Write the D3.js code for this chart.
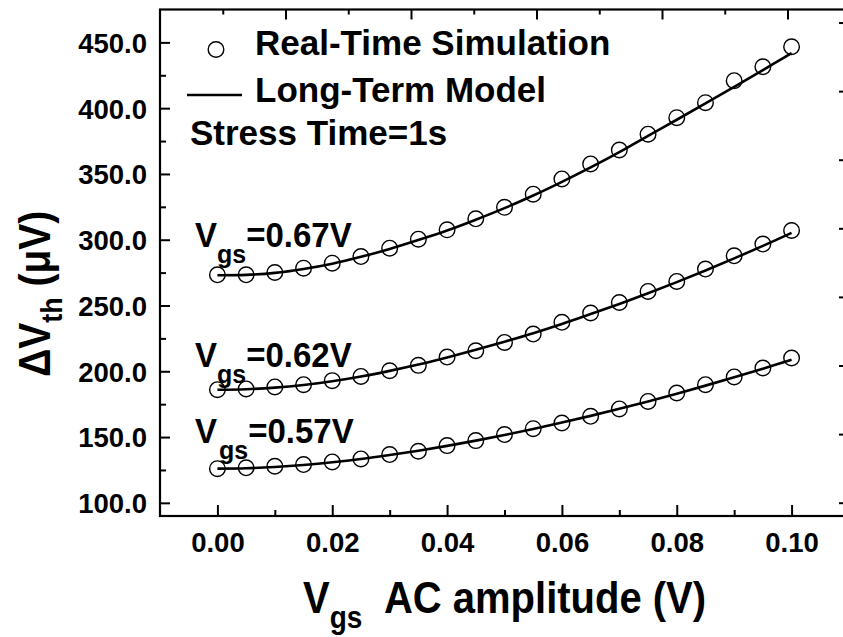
<!DOCTYPE html>
<html><head><meta charset="utf-8">
<script src="https://cdn.jsdelivr.net/npm/d3@7"></script>
<style>
body{margin:0;background:#fff}
text{font-family:"Liberation Sans",Arial,sans-serif;font-weight:bold;fill:#000}
</style>
</head><body><svg id="c" width="843" height="637"></svg>
<script>
// ---- data ----
const xValues = [0,0.005,0.01,0.015,0.02,0.025,0.03,0.035,0.04,0.045,0.05,0.055,0.06,0.065,0.07,0.075,0.08,0.085,0.09,0.095,0.1];
const sim067 = [273.3,273.3,275.1,278.4,282.2,287.2,293.6,300.4,307.5,315.9,324.6,334.6,346.2,357.6,368.2,380.2,392.8,404.2,420.9,431.5,446.7];
const sim062 = [186.0,186.6,188.1,189.8,192.9,196.1,200.4,204.5,210.8,215.6,221.9,228.3,237.2,244.3,252.3,260.7,268.3,277.7,287.8,296.7,307.0];
const sim057 = [126.0,126.6,127.8,129.1,131.1,133.4,136.7,139.2,143.5,147.3,151.9,156.4,160.7,165.8,171.4,177.1,183.5,189.8,195.7,202.5,210.1];
const model067 = [273.0,273.3,274.8,277.8,281.8,287.0,293.0,299.8,307.0,315.2,324.0,333.6,344.0,355.0,366.6,379.0,391.2,403.6,416.2,428.9,441.8];
const model062 = [186.0,186.4,187.6,189.6,192.4,196.0,200.3,205.1,210.5,216.3,222.5,229.0,236.0,243.5,251.2,259.3,267.8,276.6,285.8,295.3,305.2];
const model057 = [126.0,126.3,127.3,128.8,130.8,133.3,136.3,139.6,143.3,147.3,151.6,156.2,161.0,166.1,171.5,177.1,183.0,189.1,195.4,202.0,208.8];
const seriesNames = ["0.67V","0.62V","0.57V"];
const xTicks = [0,0.02,0.04,0.06,0.08,0.10];
const xMinorTicks = [0.01,0.03,0.05,0.07,0.09];
const yTicks = [100,150,200,250,300,350,400,450];
const yMinorTicks = [125,175,225,275,325,375,425];
const topTicks = [1,2,3,4,5];
const topMinorTicks = [0.5,1.5,2.5,3.5,4.5];
const rightTicks = [0,1,2,3,4,5,6,7];
const rightMinorTicks = [0.5,1.5,2.5,3.5,4.5,5.5,6.5];
const legendLabels = ["Real-Time Simulation","Long-Term Model","Stress Time=1s"];

// ---- layout ----
const L = 160, T = 9.5, R = 849, B = 516;
const svg = d3.select("#c");
const x = d3.scaleLinear([-0.01, 0.11], [L, R]);
const y = d3.scaleLinear([90, 475], [B, T]);
const xTop = d3.scaleLinear([0, 5.49], [L, R]);
const yRight = d3.scaleLinear([-0.194, 7.19], [B, T]);

function styleAxis(g){
  g.select(".domain").remove();
  g.selectAll(".tick line").attr("stroke","#000").attr("stroke-width",2);
  g.selectAll(".tick text").attr("fill","#000").style("font-size","27.5px").style("font-weight","bold")
   .style("font-family",'"Liberation Sans",Arial,sans-serif');
}

// bottom
svg.append("g").attr("transform",`translate(0,${B})`)
  .call(d3.axisBottom(x).tickValues(xTicks).tickSize(-11).tickPadding(16).tickFormat(d3.format(".2f")))
  .call(styleAxis);
svg.append("g").attr("transform",`translate(0,${B})`)
  .call(d3.axisBottom(x).tickValues(xMinorTicks).tickSize(-6).tickFormat(""))
  .call(styleAxis);
// left
svg.append("g").attr("transform",`translate(${L},0)`)
  .call(d3.axisLeft(y).tickValues(yTicks).tickSize(-10).tickPadding(13).tickFormat(d3.format(".1f")))
  .call(styleAxis)
  .call(g=>g.selectAll(".tick text").attr("dy","0.36em"));
svg.append("g").attr("transform",`translate(${L},0)`)
  .call(d3.axisLeft(y).tickValues(yMinorTicks).tickSize(-6).tickFormat(""))
  .call(styleAxis);
// top
svg.append("g").attr("transform",`translate(0,${T})`)
  .call(d3.axisTop(xTop).tickValues(topTicks).tickSize(-10).tickFormat(""))
  .call(styleAxis);
svg.append("g").attr("transform",`translate(0,${T})`)
  .call(d3.axisTop(xTop).tickValues(topMinorTicks).tickSize(-5).tickFormat(""))
  .call(styleAxis);
// right
svg.append("g").attr("transform",`translate(${R},0)`)
  .call(d3.axisRight(yRight).tickValues(rightTicks).tickSize(-10).tickFormat(""))
  .call(styleAxis);
svg.append("g").attr("transform",`translate(${R},0)`)
  .call(d3.axisRight(yRight).tickValues(rightMinorTicks).tickSize(-5).tickFormat(""))
  .call(styleAxis);
// frame
svg.append("rect").attr("x",L).attr("y",T).attr("width",R-L).attr("height",B-T)
  .attr("fill","none").attr("stroke","#000").attr("stroke-width",2.2);

// ---- series ----
const sims = [sim067, sim062, sim057];
const models = [model067, model062, model057];
const line = d3.line().x((d,i)=>x(xValues[i])).y(d=>y(d)).curve(d3.curveCatmullRom);
models.forEach(m=>{
  svg.append("path").attr("d",line(m)).attr("fill","none").attr("stroke","#000").attr("stroke-width",2.6);
});
sims.forEach(s=>{
  svg.append("g").selectAll("circle").data(s).join("circle")
    .attr("cx",(d,i)=>x(xValues[i])).attr("cy",d=>y(d)).attr("r",7.8)
    .attr("fill","none").attr("stroke","#000").attr("stroke-width",1.4);
});

// ---- curve labels ----
const labelOffsets = [-28, -23, -26];
const subDx = [0, 0, 2];
seriesNames.forEach((name,i)=>{
  const by = y(sims[i][0]) + labelOffsets[i];
  const t = svg.append("text").attr("transform",`translate(195,${by}) scale(1,1.06)`).style("font-size","33px");
  t.append("tspan").text("V");
  t.append("tspan").attr("dx",subDx[i]).attr("dy",15).style("font-size","25px").text("gs");
  t.append("tspan").attr("dy",-15).text("=" + name);
});

// ---- legend ----
svg.append("circle").attr("cx",L+56).attr("cy",T+40).attr("r",7.8)
  .attr("fill","none").attr("stroke","#000").attr("stroke-width",1.4);
svg.append("text").attr("x",L+95).attr("y",T+45.5).style("font-size","35px").text(legendLabels[0]);
svg.append("line").attr("x1",L+27).attr("x2",L+82).attr("y1",T+85.5).attr("y2",T+85.5)
  .attr("stroke","#000").attr("stroke-width",2.6);
svg.append("text").attr("x",L+95).attr("y",T+92).style("font-size","35px").text(legendLabels[1]);
svg.append("text").attr("x",L+30).attr("y",T+135.5).style("font-size","35px").text(legendLabels[2]);

// ---- axis titles ----
const xt = svg.append("text").attr("transform",`translate(${(L+R)/2},613) scale(1,1.12)`)
  .attr("text-anchor","middle").style("font-size","40px");
xt.append("tspan").text("V");
xt.append("tspan").attr("dy",13).style("font-size","28px").text("gs");
xt.append("tspan").attr("dy",-13).attr("dx",12).text(" AC amplitude (V)");

const yt = svg.append("text").attr("transform",`translate(50,${(T+B)/2+31}) rotate(-90) scale(1,1.12)`)
  .attr("text-anchor","middle").style("font-size","39px");
yt.append("tspan").text("\u0394V");
yt.append("tspan").attr("dy",11).style("font-size","27px").text("th");
yt.append("tspan").attr("dy",-11).text(" (\u03BCV)");
</script>
</body></html>
